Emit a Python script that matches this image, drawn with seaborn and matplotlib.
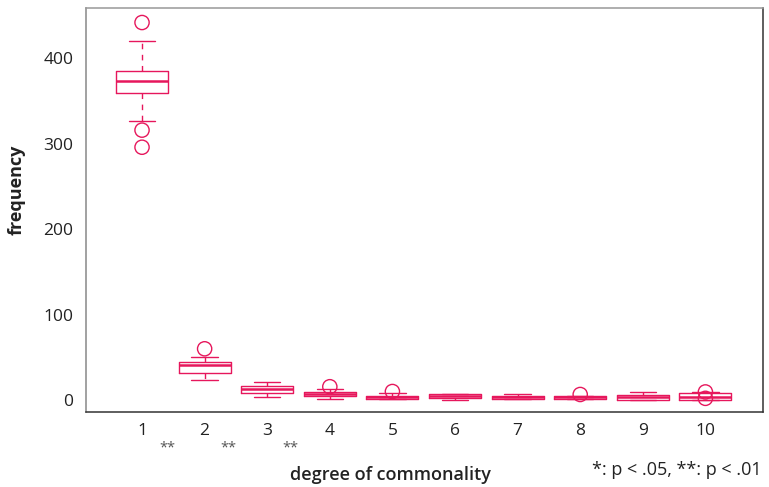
import matplotlib
matplotlib.use("Agg")
import matplotlib.pyplot as plt
import matplotlib.transforms as mtransforms
import seaborn as sns
import pandas as pd

# Degree of commonality (1..10) with five-number summaries of frequency
degrees = [1, 2, 3, 4, 5, 6, 7, 8, 9, 10]
tick_labels = [str(d) for d in degrees]
q1_vals = [360, 31.7, 8.2, 5.0, 1.5, 2.5, 1.5, 1.5, 0.5, 0.5]
median_vals = [373, 40.7, 12.5, 7.0, 3.5, 5.0, 4.0, 3.5, 3.0, 4.0]
q3_vals = [385, 44.6, 16.4, 9.4, 4.5, 6.5, 5.0, 5.0, 5.5, 8.0]
whisker_low = [327, 23.5, 3.5, 1.5, 1.5, 0.0, 1.2, 1.5, 0.5, 0.5]
whisker_high = [420, 50.4, 21.1, 12.5, 8.0, 6.5, 7.0, 5.0, 9.0, 9.0]
outliers = [[442, 316, 296], [60], [], [15.6], [10], [], [], [6.5], [], [9.5, 2]]

# significance marks between neighbouring degrees
sig_positions = [1.4, 2.38, 3.37]
sig_labels = ["**", "**", "**"]
footnote = "*: p < .05, **: p < .01"

sns.set_theme(style="white")
plt.rcParams["font.family"] = ["Open Sans", "DejaVu Sans"]

color = "#e6175c"

fig = plt.figure(figsize=(7.69, 4.87), dpi=100)
ax = fig.add_axes([86 / 769, 1 - 412 / 487, (763 - 86) / 769, (412 - 8) / 487])

stats = []
for i, d in enumerate(degrees):
    stats.append(dict(
        med=median_vals[i], q1=q1_vals[i], q3=q3_vals[i],
        whislo=whisker_low[i], whishi=whisker_high[i], fliers=[], label=tick_labels[i],
    ))

ax.bxp(
    stats, positions=degrees, widths=0.83, capwidths=0.42,
    showfliers=False, patch_artist=False,
    boxprops=dict(color=color, linewidth=1.0),
    medianprops=dict(color=color, linewidth=1.8),
    whiskerprops=dict(color=color, linewidth=1.0, linestyle=(0, (4, 4))),
    capprops=dict(color=color, linewidth=1.0),
)

flier_df = pd.DataFrame(
    [(d, v) for d, vals in zip(degrees, outliers) for v in vals],
    columns=["degree", "frequency"],
)
sns.scatterplot(
    data=flier_df, x="degree", y="frequency", ax=ax,
    marker="o", s=105, facecolor="none", edgecolor=color, linewidth=1.0,
    zorder=3, legend=False,
)

ax.set_xlim(0.105, 10.92)
ax.set_ylim(-14, 459)
ax.set_xticks(degrees)
ax.set_xticklabels(tick_labels)
ax.set_yticks([0, 100, 200, 300, 400])
ax.tick_params(axis="both", length=0, labelsize=12.5, colors="#222222")
ax.tick_params(axis="x", pad=8)
ax.tick_params(axis="y", pad=9)

ax.set_xlabel("degree of commonality", fontsize=13, fontweight="semibold",
              color="#222222", va="center")
ax.set_ylabel("frequency", fontsize=13, fontweight="bold",
              color="#222222", va="center")
ax.xaxis.set_label_coords(0.449, -0.156)
ax.yaxis.set_label_coords(-0.102, 0.55)

for side, col in [("left", "#888888"), ("top", "#999999"), ("right", "#333333"), ("bottom", "#333333")]:
    ax.spines[side].set_visible(True)
    ax.spines[side].set_color(col)
    ax.spines[side].set_linewidth(1.1)

trans = mtransforms.blended_transform_factory(ax.transData, ax.transAxes)
for xp, lab in zip(sig_positions, sig_labels):
    ax.text(xp, -0.088, lab, transform=trans, ha="center", va="center",
            fontsize=10.5, color="#555555")

fig.text(592 / 769, 1 - 470 / 487, footnote, ha="left", va="center",
         fontsize=13, color="#222222")

fig.savefig("out.png", dpi=100)
